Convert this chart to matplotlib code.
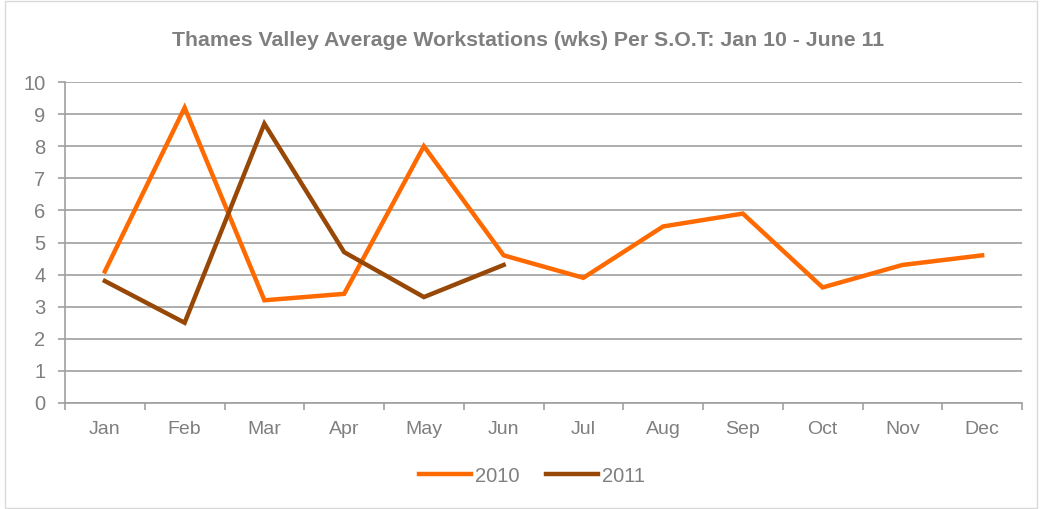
import matplotlib
matplotlib.use("Agg")
import matplotlib.pyplot as plt
from matplotlib.patches import Rectangle
import numpy as np

months = ["Jan", "Feb", "Mar", "Apr", "May", "Jun", "Jul", "Aug", "Sep", "Oct", "Nov", "Dec"]
values_2010 = [4.1, 9.2, 3.2, 3.4, 8.0, 4.6, 3.9, 5.5, 5.9, 3.6, 4.3, 4.6]
values_2011 = [3.8, 2.5, 8.7, 4.7, 3.3, 4.3]
y_ticks = list(range(0, 11))

plt.rcParams['font.family'] = ['Liberation Sans', 'DejaVu Sans']
text_color = "#7F7F7F"
grid_color = "#A0A0A0"

fig = plt.figure(figsize=(10.4, 5.09), dpi=100)
ax = fig.add_axes([65/1040, 1 - 403/509, (1022 - 65)/1040, (403 - 82)/509])

x = np.arange(len(months))
ax.plot(x, values_2010, color="#FF6A00", lw=3.2, label="2010", solid_joinstyle="miter")
ax.plot(x[:len(values_2011)], values_2011, color="#974806", lw=3.2, label="2011", solid_joinstyle="miter")

ax.set_xlim(-0.5, len(months) - 0.5)
ax.set_ylim(0, 10)
ax.set_yticks(y_ticks)
ax.set_yticklabels([str(t) for t in y_ticks], fontsize=14.5, color=text_color)
ax.yaxis.grid(True, color=grid_color, lw=1.2)
ax.set_axisbelow(True)

ax.set_xticks(x)
ax.set_xticklabels(months, fontsize=14, color=text_color)
ax.set_xticks(np.arange(-0.5, len(months)), minor=True)
ax.tick_params(axis="x", which="major", length=0, pad=13)
ax.tick_params(axis="x", which="minor", length=5, color=grid_color, width=1.2)
ax.tick_params(axis="y", length=5, color=grid_color, width=1.2, pad=9)

for s in ["top", "right"]:
    ax.spines[s].set_visible(False)
for s in ["left", "bottom"]:
    ax.spines[s].set_color(grid_color)
    ax.spines[s].set_linewidth(1.2)

fig.text(528/1040, 1 - 40/509, "Thames Valley Average Workstations (wks) Per S.O.T: Jan 10 - June 11",
         ha="center", va="center", fontsize=15.3, fontweight="bold", color=text_color)

leg = fig.legend(loc="center", bbox_to_anchor=(532/1040, 1 - 476/509), ncol=2, frameon=False,
                 fontsize=14.5, handlelength=2.6, handletextpad=0.2, columnspacing=1.3)
for t in leg.get_texts():
    t.set_color(text_color)

fig.patches.append(Rectangle((5/1040, 0.002), 1032/1040, 0.996, transform=fig.transFigure,
                             fill=False, edgecolor="#D9D9D9", lw=1))

fig.savefig("out.png", dpi=100)
